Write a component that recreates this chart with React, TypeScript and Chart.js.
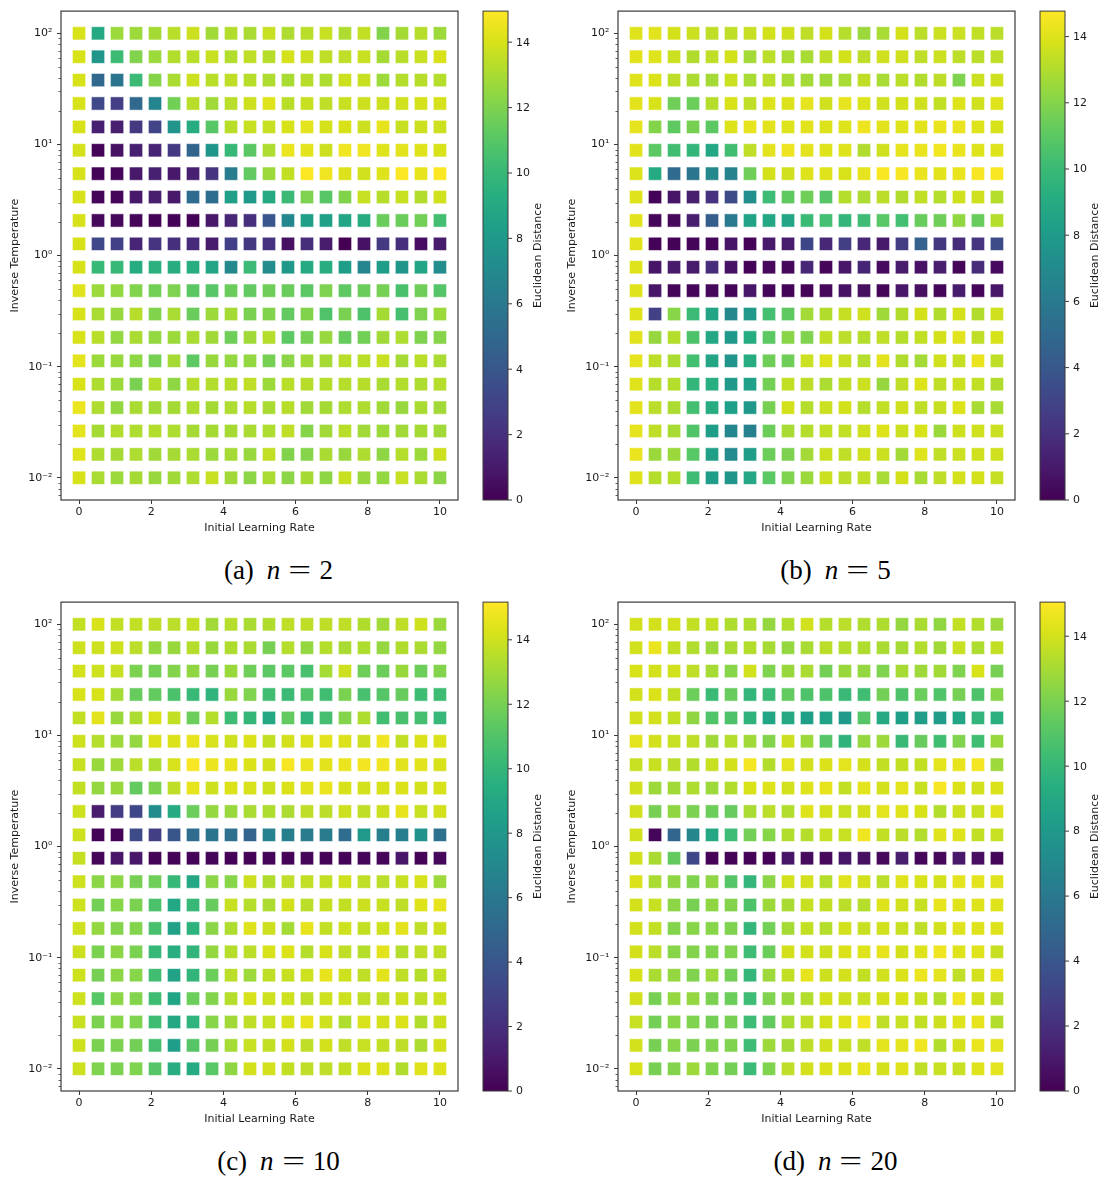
import React, { useEffect, useRef } from 'react';
import { Chart, registerables } from 'chart.js';

Chart.register(...registerables);

// ---------- data ----------
const learningRates = [0, 0.526, 1.053, 1.579, 2.105, 2.632, 3.158, 3.684, 4.211, 4.737, 5.263, 5.789, 6.316, 6.842, 7.368, 7.895, 8.421, 8.947, 9.474, 10];
// rows listed from top (100) to bottom (0.01)
const inverseTemps = [100, 61.58, 37.93, 23.36, 14.38, 8.859, 5.456, 3.36, 2.069, 1.274, 0.7848, 0.4833, 0.2976, 0.1833, 0.1129, 0.06952, 0.04281, 0.02637, 0.01624, 0.01];

const xTickValues = [0, 2, 4, 6, 8, 10];
const yTickValues = [0.01, 0.1, 1, 10, 100];
const yTickLabels = ['10\u207B\u00B2', '10\u207B\u00B9', '10\u2070', '10\u00B9', '10\u00B2'];
const yMinorMultipliers = [2, 3, 4, 5, 6, 7, 8, 9];
const yMinorDecades = [0.001, 0.01, 0.1, 1, 10, 100];
const colorbarTicks = [0, 2, 4, 6, 8, 10, 12, 14];

const distN2 = [
  [14, 9, 12.7, 12.7, 12.9, 13.35, 13.75, 12.8, 13.2, 13, 13.65, 13.1, 13.35, 13.65, 13.1, 13.55, 12.1, 12.9, 13.3, 12.7],
  [14, 7.8, 10.2, 12.1, 12.7, 13.2, 13.35, 13.65, 13.2, 13.45, 13.3, 13.95, 13.75, 13.45, 13.45, 13.65, 12.9, 13.35, 13.65, 14.05],
  [14, 5, 5.8, 10.1, 12.2, 13, 13.75, 13.35, 13.45, 13.3, 13.1, 13, 13.3, 13.1, 13.75, 13.65, 12.7, 13.25, 13.3, 13.25],
  [14, 3.2, 2.7, 5, 6.75, 11.7, 13.35, 12.8, 13.35, 13.75, 14.2, 13.35, 13.65, 13.45, 13.65, 13.75, 13.75, 13.85, 13.95, 13.95],
  [14, 1.3, 1.2, 2.4, 3, 7.7, 9.2, 11, 13.35, 13.65, 13.65, 14, 14.3, 13.95, 14, 13.75, 14.4, 13.65, 13.75, 13.75],
  [13.95, 0.1, 0.7, 1.3, 1.5, 2.5, 4.8, 7.8, 10, 11.1, 13.1, 14.5, 14.3, 13.75, 14.6, 14.6, 14.2, 14.3, 14.2, 14],
  [14, 0.1, 0.2, 1, 1.3, 1, 1.3, 2.2, 6.2, 11.3, 12.7, 13.55, 14.9, 14.6, 14.1, 13.85, 14.2, 14.9, 14.4, 14.9],
  [14, 0.2, 0.2, 1, 1.2, 1, 5.2, 5.3, 8.5, 8, 9, 10.1, 12, 11, 12.1, 13.65, 13.3, 13.65, 13.2, 13.85],
  [14, 0.3, 0.3, 0.2, 0.1, 0.1, 0.1, 1, 1.6, 2, 4, 6.85, 8.3, 8.5, 8.8, 9.2, 11.5, 11.5, 11.7, 10.4],
  [14, 3.2, 2.8, 1.5, 2.2, 2, 1.8, 1.1, 2.8, 2.4, 2.1, 0.6, 1.9, 1.1, 0, 0.7, 2.5, 2, 0.5, 1.1],
  [14, 10, 10, 9.2, 9.5, 9.3, 9.3, 8.8, 6.95, 10.1, 7.25, 8, 9, 9.3, 8.2, 6.75, 8.2, 7.8, 8.8, 7.25],
  [14.2, 12.7, 12.5, 12.1, 11.7, 12, 11.1, 11, 11.5, 11.3, 11.6, 11.5, 11.1, 12, 11.2, 11.5, 11.8, 10.6, 11.6, 10.9],
  [14, 13, 12.6, 13.3, 12.1, 13, 11.5, 12.7, 12.9, 11.9, 12.1, 11.3, 12.1, 10.8, 11.9, 10.7, 12.9, 10.5, 12, 12.7],
  [14, 13.35, 12.5, 13, 12.5, 12.7, 13, 12.8, 11.6, 12.8, 13.25, 11.2, 11.8, 12.6, 11.4, 11.7, 12.8, 13.1, 12, 12.2],
  [14.3, 12.7, 12.6, 12.4, 11.8, 12.9, 11.2, 12.6, 12.5, 12.5, 11.8, 12.3, 12.8, 12.9, 13.35, 13.35, 13.65, 12.9, 13.35, 13],
  [14, 13.1, 12.7, 11.9, 13.25, 12.4, 13.25, 13.2, 13.3, 13.45, 12.7, 13.35, 13.3, 13.25, 13.25, 13.3, 13, 13.2, 13.1, 13.25],
  [14.5, 13.1, 12.5, 13, 12.8, 12.9, 13.1, 12.9, 13.1, 13.3, 13, 13.3, 12.8, 12.9, 13.1, 13.1, 12.8, 12.6, 13, 12.8],
  [14.3, 12.9, 13.2, 13.1, 13.2, 13.1, 12.9, 12.9, 12.9, 13, 13.1, 13.45, 12.2, 12.8, 13.35, 12.8, 12.7, 12.8, 12.9, 12.8],
  [14.2, 13.1, 12.9, 13.1, 12.8, 12.9, 13, 12.7, 12.9, 12.6, 13.55, 12.1, 12.2, 13, 12.6, 13.1, 12.4, 13.25, 12.7, 13.75],
  [14, 13, 12.7, 12.9, 12.6, 12.8, 13.1, 13.65, 12.8, 12.3, 13, 12.3, 12.9, 12.4, 13.65, 12.6, 12.5, 13.65, 13, 12.3],
];

const distN5 = [
  [14, 14.1, 13.75, 13.55, 13.3, 13.3, 13.45, 13.75, 13.65, 13.3, 13.75, 13.1, 12.5, 12.8, 13.75, 13.2, 13.55, 13.55, 13.35, 13.2],
  [14.1, 14, 13.55, 13, 13.3, 13.75, 12.7, 13.2, 12.9, 12.8, 13.3, 13.75, 13.25, 13.65, 13.65, 13.3, 13.55, 13.25, 13.2, 13.3],
  [14, 13.95, 13.25, 12.9, 12.7, 13.55, 12.8, 13.2, 12.8, 12.7, 12.6, 12.8, 13.3, 12.8, 13.2, 13, 13.25, 11.9, 13.55, 13.65],
  [14.1, 13.85, 11.5, 11.4, 13.1, 13.85, 13.3, 13.95, 13.95, 14.2, 13.65, 14.2, 13.95, 13.65, 13.75, 13.65, 13.35, 13.95, 13.65, 14],
  [14.2, 12, 11.1, 11.7, 11, 13.95, 14.2, 14.1, 14, 14.1, 13.95, 14, 14.4, 14.1, 14, 14.1, 14.3, 14.3, 14, 13.85],
  [14.1, 11, 10.2, 9.7, 8.8, 10.2, 13.3, 14.1, 14.4, 14.1, 14, 14, 13, 13.65, 14.2, 14.3, 14.5, 14.3, 14, 14],
  [13.95, 9, 5.1, 5.7, 6.85, 6.55, 11.5, 13.75, 13.65, 14, 14, 13.85, 14.2, 14.7, 14.6, 14.3, 14.1, 14.3, 14.6, 14.7],
  [14, 0.1, 0.8, 1.2, 2.1, 3.4, 7.25, 10.1, 11.1, 11.5, 10.8, 13.1, 12.9, 13.2, 13, 13.35, 13.1, 13.65, 13.65, 13.1],
  [14.1, 0.2, 0.3, 1.2, 4.3, 6, 8.5, 8.8, 8.7, 10, 10.3, 9.7, 10.1, 10.9, 10.3, 11.3, 11.5, 12.3, 11.3, 13.1],
  [14.1, 0.1, 0.1, 0.2, 0.2, 0.8, 0.1, 1, 1.1, 3.1, 1.6, 2.7, 1.6, 1, 2.6, 4.5, 2.3, 1.8, 2.2, 3.4],
  [14, 0.8, 1, 1.1, 1.8, 0.7, 0.1, 0.3, 0.3, 1.6, 0.2, 0.9, 1.5, 0.4, 1.1, 0.7, 1.2, 0.2, 1.8, 0.4],
  [14, 0.9, 0.2, 0.2, 0.3, 0.2, 0.9, 0.2, 0.1, 0.1, 0.3, 0.7, 0.6, 0.2, 0.9, 0.6, 0.2, 1.1, 0.2, 0.9],
  [14, 2.8, 12.1, 10, 8.6, 6.85, 7.9, 10.3, 11.1, 12.7, 13, 13.45, 13.65, 12.6, 13, 13.75, 13, 13.75, 13, 13.65],
  [14.1, 12.4, 13.1, 10.6, 8.8, 7.9, 9.1, 11, 12.1, 11.9, 13.35, 13.2, 13.1, 13.3, 13.1, 13.35, 13.75, 14.1, 13.3, 13.85],
  [14.2, 13.25, 12.9, 10.3, 8.6, 7.6, 9.1, 11.5, 11.5, 13.55, 14, 13.45, 13.1, 14.1, 13, 12.7, 13.65, 13.45, 14.3, 13.3],
  [14, 13.1, 13.1, 9.7, 9.2, 7.9, 8.3, 11.6, 13.35, 13.25, 12.9, 13.35, 13.55, 12.4, 13.3, 13.95, 13.3, 13.55, 13.35, 13],
  [14.1, 13.2, 12.9, 10.3, 9.1, 8.3, 7.9, 11.7, 13.75, 13.1, 13.55, 13.75, 13.1, 13.35, 13.65, 13.3, 13.45, 13.95, 12.8, 12.8],
  [14.2, 13.3, 12.8, 10.7, 8.1, 6.75, 6.35, 11.4, 12.8, 13.1, 13.35, 13.35, 13.65, 13.95, 13.55, 13.85, 12.5, 13.65, 13.65, 13.55],
  [14.3, 12.5, 12.5, 10.9, 8.4, 6.95, 8.1, 11.4, 11.8, 12.7, 13.55, 13.3, 13.65, 13.55, 12.7, 14, 13.3, 13.55, 13.65, 13.65],
  [14, 13.1, 13.1, 10.1, 8.1, 7.7, 8.8, 11, 11.9, 12.5, 13.55, 13.2, 13.3, 12.8, 13.75, 12.8, 13.3, 13.75, 13.75, 13.45],
];

const distN10 = [
  [13.75, 14.2, 13.75, 13.75, 13.65, 13.55, 13.75, 13, 13.45, 13.2, 13.35, 13.65, 13.65, 13.65, 13.65, 13.35, 13, 13.65, 14, 12.8],
  [14, 14, 14, 13.55, 12.7, 12.8, 13.45, 12.8, 13.3, 13.2, 12, 13.45, 12.7, 13.45, 13.2, 13.3, 12.7, 13.35, 13.25, 12.7],
  [14.1, 14, 13.85, 12.1, 11.9, 12.3, 12.6, 12, 12.8, 11.8, 11.3, 11.3, 10.7, 13.1, 13.95, 11.8, 11.7, 12.8, 11.7, 12.3],
  [14.2, 14.2, 13.1, 11.6, 11.5, 10.8, 10.2, 9.8, 12.8, 12.2, 10.5, 10.3, 11, 10.5, 12.1, 10.7, 11.1, 11.6, 10.4, 10.4],
  [13.75, 14.5, 12.8, 13.25, 14.2, 13.75, 11.7, 13.45, 10.4, 10, 9.1, 11.5, 9.8, 10.6, 12.3, 13.3, 10.5, 10.7, 10.6, 10.1],
  [14, 13.45, 12.9, 12.7, 14.3, 14.3, 14.6, 14.2, 14, 14.3, 13.75, 14.1, 14.3, 14.5, 14.3, 13.95, 14.8, 13.75, 14.3, 14.3],
  [13.85, 12.8, 13, 13.55, 13.3, 14.2, 15, 14.7, 14.6, 14.3, 14.1, 15, 14.7, 14.5, 14.7, 14.9, 14.8, 14.5, 14.5, 14.2],
  [13.75, 12.7, 12.8, 11.5, 12.1, 13.65, 14.6, 14, 14.3, 14.2, 14, 14.3, 14.5, 14.7, 14.2, 14.1, 14.2, 14.3, 14.1, 14.2],
  [14, 1.1, 2.6, 3.2, 7.25, 9.2, 11.7, 12.7, 12.8, 13.2, 13.3, 13.25, 13.65, 13.55, 13.95, 13.65, 13.95, 14.6, 13.85, 14.1],
  [14, 0.1, 0.1, 3.4, 2.8, 4, 5.3, 5.8, 5.6, 4.8, 6.65, 6.45, 6.2, 6.2, 5.4, 8.1, 6.45, 6.45, 7.7, 5.7],
  [13.8, 0.2, 0.8, 0.9, 0.1, 0.1, 0.1, 0.2, 0.1, 0.1, 0.2, 0.1, 0.2, 0.1, 0.1, 0.2, 0.2, 0.9, 0.1, 0.3],
  [14, 12.5, 12.5, 12, 11.8, 10.1, 9, 12.5, 12.4, 13.95, 13.35, 13.65, 13.75, 13.75, 14, 13.65, 13.55, 13.85, 14.2, 12.9],
  [14, 11.9, 12.4, 12.1, 10.8, 9, 10.1, 11.6, 13.85, 13.45, 13.25, 14.1, 13.55, 13.85, 13.75, 13.95, 13.85, 13.65, 14.4, 14.6],
  [14, 12.7, 12.3, 12.3, 10.7, 8.7, 9.7, 12.5, 13.3, 14.4, 13.95, 13.1, 14.6, 13.75, 14, 13.75, 14, 14.5, 13.65, 13.95],
  [13.95, 12.1, 12.5, 12.1, 10.1, 9.5, 9.9, 12.7, 13.45, 13.55, 14.2, 14.3, 13.45, 14.2, 13.65, 13.45, 14.5, 13.45, 13.65, 13.65],
  [14, 12, 12.5, 12.4, 10.5, 8.7, 9.9, 11.7, 13.55, 12.9, 13.65, 13.85, 14, 14.6, 14, 13.65, 14.5, 13.65, 13.45, 13.75],
  [14, 11.2, 12.5, 12.3, 10.4, 8.9, 11.7, 12.3, 13.45, 14.2, 14, 14, 13.65, 14, 14, 13.65, 13.65, 13.95, 13.65, 14],
  [13.85, 12.1, 12.4, 12.2, 10.4, 9.1, 9.8, 12.4, 13, 13.65, 13.85, 14.2, 14.6, 14, 13.3, 14.2, 14.1, 14.3, 13.35, 13.95],
  [14, 12.1, 12.1, 11.9, 10.6, 8.4, 11.1, 12, 13.1, 13.85, 13.75, 14.1, 13.65, 14.1, 13.65, 13.85, 13.75, 13.65, 13.25, 14.1],
  [14, 12.2, 12.1, 12.2, 11.1, 9.4, 9.2, 11.2, 12.6, 14.1, 14.1, 13.75, 13.65, 13.65, 13.75, 14.3, 14.3, 13.35, 14.4, 14.4],
];

const distN20 = [
  [14, 14, 14, 13.65, 13.65, 13.2, 13.2, 12.6, 13.25, 13.95, 13.35, 13.45, 13.2, 13.2, 12.6, 13.1, 12.5, 13.65, 13.3, 12.8],
  [13.95, 14.6, 13.65, 13.25, 12.8, 13.1, 13.3, 13, 12.6, 13.1, 13.45, 13.35, 13.2, 13.1, 13, 13.3, 12.9, 13.75, 13.2, 13.65],
  [14.1, 14, 13.95, 13.55, 13, 12.3, 13.95, 12.1, 12.7, 13.1, 11.8, 12.7, 12.6, 12.1, 13, 12.8, 12.9, 12.1, 14.1, 11.9],
  [14, 14.2, 13.65, 11.6, 10.2, 11.5, 9.9, 10.2, 11.4, 10.8, 10.8, 10.1, 10.4, 11.8, 10.8, 11.6, 10.9, 11.9, 10.8, 12.3],
  [14, 14, 13.65, 12.5, 10.9, 10.8, 9.7, 8.8, 9, 8.4, 8.6, 8.1, 11, 9.1, 8.4, 8.2, 8.2, 8.8, 9.8, 9.5],
  [14.4, 14, 13.75, 13.55, 12.9, 13.35, 12.9, 12.2, 13.85, 12.8, 11, 9.7, 12.6, 12.8, 10.1, 11.5, 10.4, 12.1, 10.4, 12.7],
  [13.75, 13.75, 13.45, 13.3, 13.75, 14, 14.8, 13.3, 14.4, 14, 14.2, 14.4, 14, 13.65, 13.65, 13.65, 14.4, 14.5, 14.8, 12.8],
  [13.95, 12.8, 12.9, 13.2, 12.8, 13.3, 14.1, 14.3, 14, 14.3, 14.5, 13.65, 14.4, 14, 14.4, 13.75, 14.9, 14.2, 13.95, 14.2],
  [13.95, 11.9, 12.5, 12, 11.6, 11.5, 13.1, 13.45, 13.3, 14.3, 14, 13.75, 14, 14.4, 14.3, 14.1, 13.3, 13.85, 13.75, 14.3],
  [13.95, 0.2, 4.8, 6.85, 9, 10.3, 11.8, 12.3, 13.3, 13.35, 13.75, 13.75, 14.7, 13.65, 13.45, 13.3, 14.3, 14.3, 13.65, 13.75],
  [13.95, 13.1, 11.4, 3.2, 0.1, 0.1, 0.1, 0.1, 0.8, 0.4, 0.3, 0.8, 0.6, 0.3, 1.2, 0.2, 0.3, 1, 0.5, 0.2],
  [14.2, 13.1, 12.5, 12.1, 12.5, 11, 9.9, 12.4, 14, 14, 13.35, 14.3, 14, 13.45, 14.3, 14.1, 14, 14.4, 14.4, 14.3],
  [14, 13.75, 12.4, 11.9, 12.5, 12.2, 10.8, 12.8, 13.1, 13.75, 13.65, 13.45, 13.35, 14.3, 13.95, 13.75, 14.5, 14.3, 14.3, 14.3],
  [14, 13.65, 12.2, 12.3, 12.3, 12.1, 9.9, 11.8, 13, 13.65, 13.35, 14, 13.75, 13.95, 13.75, 13.55, 13.95, 14.3, 14.3, 14.3],
  [14, 13.45, 12.3, 12.2, 12.1, 12.1, 10.3, 11.6, 14, 14, 13.85, 14.2, 14.3, 14.5, 14, 14.3, 14.7, 14.3, 14.3, 13.75],
  [14.1, 13.1, 12.6, 12.1, 12.8, 11.8, 9.9, 12.8, 13.65, 14.5, 13.85, 14, 13.65, 13.95, 14.2, 14.6, 14.4, 13.55, 14, 14.5],
  [14, 11.9, 12.6, 12.6, 12, 11.6, 10.3, 12.1, 12.7, 13.3, 14, 13.85, 13.75, 14, 14.1, 13.75, 13.3, 14.7, 14, 13.45],
  [13.75, 11.8, 12.3, 12.1, 11.8, 11.9, 10.3, 11.4, 13.1, 13.55, 14, 14.3, 14.8, 13.55, 13.75, 13.65, 13.85, 14.3, 14.5, 13.3],
  [14, 11.9, 12.3, 12, 12.1, 12.1, 10.3, 12.8, 13, 13.55, 13.95, 13.75, 13.55, 14.4, 14.4, 14.7, 13.3, 14, 14.6, 14.4],
  [14.1, 11.9, 12.2, 12.8, 12.1, 11.8, 10.2, 12.1, 13.55, 14, 14.2, 14.2, 14.5, 14, 14.3, 13.55, 13.75, 13.75, 14.3, 14.4],
];

const panelLetters = ['(a)', '(b)', '(c)', '(d)'];
const panelN = ['2', '5', '10', '20'];
const panelVmax = [14.95, 14.77, 15.17, 15.05];
const panelData = [distN2, distN5, distN10, distN20];

// ---------- styling ----------
const FONT = 'DejaVu Sans';
const TEXT = '#1a1a1a';
const SPINE = '#3a3a3a';
const VIRIDIS = ['#440154', '#48186a', '#472d7b', '#424086', '#3b528b', '#33638d', '#2c728e', '#26828e', '#21918c', '#1fa088', '#28ae80', '#3fbc73', '#5ec962', '#84d44b', '#addc30', '#d8e219', '#fde725'];

function hexRgb(h: string) {
  return [parseInt(h.slice(1, 3), 16), parseInt(h.slice(3, 5), 16), parseInt(h.slice(5, 7), 16)];
}
function viridis(t: number) {
  const tt = Math.max(0, Math.min(1, t)) * (VIRIDIS.length - 1);
  const i = Math.min(VIRIDIS.length - 2, Math.floor(tt));
  const f = tt - i;
  const a = hexRgb(VIRIDIS[i]);
  const b = hexRgb(VIRIDIS[i + 1]);
  const c = a.map((v, k) => Math.round(v + (b[k] - v) * f));
  return `rgb(${c[0]},${c[1]},${c[2]})`;
}

const framePlugin = {
  id: 'frameAndColorbar',
  afterDraw(chart: any, _args: any, opts: any) {
    const { ctx, chartArea } = chart;
    const { left, right, top, bottom } = chartArea;
    ctx.save();
    // minor ticks on the log axis
    const ys = chart.scales.y;
    ctx.strokeStyle = SPINE;
    ctx.lineWidth = 0.8;
    yMinorDecades.forEach((d) => {
      yMinorMultipliers.forEach((m) => {
        const v = d * m;
        if (v < ys.min || v > ys.max) return;
        const py = Math.round(ys.getPixelForValue(v)) + 0.5;
        ctx.beginPath();
        ctx.moveTo(left - 2.5, py);
        ctx.lineTo(left, py);
        ctx.stroke();
      });
    });
    // frame
    ctx.lineWidth = 1.2;
    ctx.strokeRect(left, top, right - left, bottom - top);

    // colorbar
    const vmax = opts.vmax;
    const cx = right + 25;
    const cw = 25;
    const grad = ctx.createLinearGradient(0, bottom, 0, top);
    VIRIDIS.forEach((c, i) => grad.addColorStop(i / (VIRIDIS.length - 1), c));
    ctx.fillStyle = grad;
    ctx.fillRect(cx, top, cw, bottom - top);
    ctx.lineWidth = 1;
    ctx.strokeStyle = SPINE;
    ctx.strokeRect(cx, top, cw, bottom - top);
    ctx.fillStyle = TEXT;
    ctx.font = `11px "${FONT}"`;
    ctx.textAlign = 'left';
    ctx.textBaseline = 'middle';
    colorbarTicks.forEach((t) => {
      const py = bottom - (t / vmax) * (bottom - top);
      ctx.beginPath();
      ctx.moveTo(cx + cw, py);
      ctx.lineTo(cx + cw + 4, py);
      ctx.stroke();
      ctx.fillText(String(t), cx + cw + 8, py + 0.5);
    });
    ctx.translate(cx + 55, (top + bottom) / 2);
    ctx.rotate(-Math.PI / 2);
    ctx.textAlign = 'center';
    ctx.fillText('Euclidean Distance', 0, 0);
    ctx.restore();
  },
};

const CANVAS_W = 553;
const CANVAS_H = 545;

function Panel({ index, left, top }: { index: number; left: number; top: number }) {
  const ref = useRef<HTMLCanvasElement>(null);
  useEffect(() => {
    const values = panelData[index];
    const vmax = panelVmax[index];
    const points: { x: number; y: number }[] = [];
    const colors: string[] = [];
    values.forEach((row, r) =>
      row.forEach((v, c) => {
        points.push({ x: learningRates[c], y: inverseTemps[r] });
        colors.push(viridis(v / vmax));
      })
    );
    const tickFont = { family: FONT, size: 11 };
    const chart = new Chart(ref.current as HTMLCanvasElement, {
      type: 'scatter',
      data: {
        datasets: [
          {
            data: points,
            pointStyle: 'rect',
            pointRadius: 9.4,
            pointHoverRadius: 9.4,
            backgroundColor: colors,
            borderColor: 'rgba(255,255,255,0.55)',
            borderWidth: 1,
          },
        ],
      },
      options: {
        responsive: false,
        animation: false,
        events: [],
        layout: { padding: { left: 0, top: 7, right: 95, bottom: 0 }, autoPadding: false },
        plugins: {
          legend: { display: false },
          tooltip: { enabled: false },
          frameAndColorbar: { vmax },
        } as any,
        scales: {
          x: {
            type: 'linear',
            min: -0.5,
            max: 10.5,
            afterBuildTicks: (s: any) => {
              s.ticks = xTickValues.map((v) => ({ value: v }));
            },
            afterFit: (s: any) => {
              s.height = CANVAS_H - 500;
            },
            ticks: { font: tickFont, color: TEXT, padding: 2, maxRotation: 0, callback: (v: any) => String(v) },
            grid: { drawOnChartArea: false, drawTicks: true, tickLength: 4, tickColor: SPINE, tickWidth: 1 },
            border: { display: false },
            title: { display: true, text: 'Initial Learning Rate', font: tickFont, color: TEXT, padding: { top: 0, bottom: 10.7 } },
          },
          y: {
            type: 'logarithmic',
            min: 0.0063096,
            max: 158.489,
            afterBuildTicks: (s: any) => {
              s.ticks = yTickValues.map((v) => ({ value: v, major: true }));
            },
            afterFit: (s: any) => {
              s.width = 61;
            },
            ticks: {
              font: tickFont,
              color: TEXT,
              padding: 4.5,
              callback: (v: any) => {
                const i = yTickValues.findIndex((t) => Math.abs(Math.log10(t) - Math.log10(Number(v))) < 1e-6);
                return i >= 0 ? yTickLabels[i] : '';
              },
            },
            grid: { drawOnChartArea: false, drawTicks: true, tickLength: 4, tickColor: SPINE, tickWidth: 1 },
            border: { display: false },
            title: { display: true, text: 'Inverse Temperature', font: tickFont, color: TEXT, padding: { top: 8.4, bottom: 0 } },
          },
        },
      } as any,
      plugins: [framePlugin],
    });
    return () => chart.destroy();
  }, [index]);

  return (
    <div style={{ position: 'absolute', left, top, width: 557, height: 591 }}>
      <canvas ref={ref} width={CANVAS_W} height={CANVAS_H} style={{ position: 'absolute', left: 0, top: 0, width: CANVAS_W, height: CANVAS_H }} />
      <div
        style={{
          position: 'absolute',
          left: 0,
          width: 557,
          top: 557,
          textAlign: 'center',
          fontFamily: '"Liberation Serif", serif',
          fontSize: 27,
          lineHeight: '26px',
          color: '#000',
          whiteSpace: 'nowrap',
        }}
      >
        <span>{panelLetters[index]}</span>
        <span style={{ marginLeft: 13, fontStyle: 'italic' }}>n</span>
        <span style={{ marginLeft: 12, display: 'inline-block', transform: 'scaleX(1.5)' }}>=</span>
        <span style={{ marginLeft: 12 }}>{panelN[index]}</span>
      </div>
    </div>
  );
}

export default function App() {
  return (
    <div style={{ position: 'absolute', left: 0, top: 0, width: 1107, height: 1182, background: '#fff', overflow: 'hidden' }}>
      <Panel index={0} left={0} top={0} />
      <Panel index={1} left={557} top={0} />
      <Panel index={2} left={0} top={591} />
      <Panel index={3} left={557} top={591} />
    </div>
  );
}
